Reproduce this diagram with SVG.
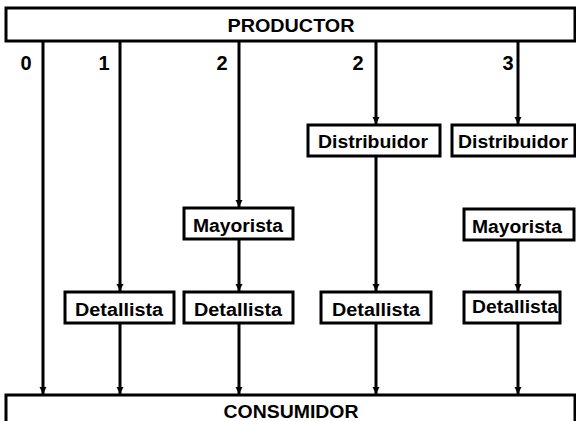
<svg xmlns="http://www.w3.org/2000/svg" width="576" height="421" viewBox="0 0 576 421">
<defs>
<marker id="ah" viewBox="0 0 10 10" refX="10" refY="5" markerWidth="2.5" markerHeight="2.5" markerUnits="strokeWidth" orient="auto">
<path d="M0,0 L10,5 L0,10 z" fill="#000"/>
</marker>
<style>
.box{fill:#fff;stroke:#000;stroke-width:3}
.t{font-family:"Liberation Sans",Arial,sans-serif;font-weight:bold;fill:#000;text-anchor:middle}
.l{font-size:18px}
.n{font-size:20px}
.e{stroke:#000;stroke-width:3;fill:none}
.a{marker-end:url(#ah)}
</style>
</defs>
<rect width="576" height="421" fill="#fff"/>
<g id="connectors">
<line class="e a" x1="43" y1="41" x2="43" y2="394"/>
<line class="e a" x1="120" y1="41" x2="120" y2="291"/>
<line class="e a" x1="120" y1="323" x2="120" y2="394"/>
<line class="e a" x1="239" y1="41" x2="239" y2="207"/>
<line class="e a" x1="239" y1="239" x2="239" y2="291"/>
<line class="e a" x1="239" y1="323" x2="239" y2="394"/>
<line class="e a" x1="376" y1="41" x2="376" y2="124"/>
<line class="e a" x1="376" y1="156" x2="376" y2="291"/>
<line class="e a" x1="376" y1="323" x2="376" y2="394"/>
<line class="e a" x1="518" y1="41" x2="518" y2="124"/>
<line class="e a" x1="518" y1="240" x2="518" y2="291"/>
<line class="e a" x1="518" y1="323" x2="518" y2="394"/>
</g>
<g id="productor">
<rect class="box" x="6" y="8" width="569" height="33"/>
<text class="t" x="291" y="32" font-size="19" textLength="127" lengthAdjust="spacingAndGlyphs">PRODUCTOR</text>
</g>
<g id="labels">
<text class="t n" x="26" y="70">0</text>
<text class="t n" x="104" y="70">1</text>
<text class="t n" x="222" y="70">2</text>
<text class="t n" x="358" y="70">2</text>
<text class="t n" x="508" y="70">3</text>
</g>
<g id="distribuidor1">
<rect class="box" x="308" y="125" width="132" height="31"/>
<text class="t l" x="373" y="148" textLength="110" lengthAdjust="spacingAndGlyphs">Distribuidor</text>
</g>
<g id="distribuidor2">
<rect class="box" x="452" y="125" width="123" height="31"/>
<text class="t l" x="513" y="148" textLength="110" lengthAdjust="spacingAndGlyphs">Distribuidor</text>
</g>
<g id="mayorista1">
<rect class="box" x="184" y="208" width="109" height="31"/>
<text class="t l" x="238" y="232" textLength="90" lengthAdjust="spacingAndGlyphs">Mayorista</text>
</g>
<g id="mayorista2">
<rect class="box" x="464" y="209" width="110" height="31"/>
<text class="t l" x="517" y="233" textLength="90" lengthAdjust="spacingAndGlyphs">Mayorista</text>
</g>
<g id="detallista1">
<rect class="box" x="65" y="292" width="109" height="31"/>
<text class="t l" x="119" y="316" textLength="88" lengthAdjust="spacingAndGlyphs">Detallista</text>
</g>
<g id="detallista2">
<rect class="box" x="184" y="292" width="109" height="31"/>
<text class="t l" x="238" y="316" textLength="88" lengthAdjust="spacingAndGlyphs">Detallista</text>
</g>
<g id="detallista3">
<rect class="box" x="321" y="292" width="110" height="31"/>
<text class="t l" x="376" y="316" textLength="88" lengthAdjust="spacingAndGlyphs">Detallista</text>
</g>
<g id="detallista4">
<rect class="box" x="464" y="292" width="96" height="31"/>
<text class="t l" x="515" y="313" textLength="86" lengthAdjust="spacingAndGlyphs">Detallista</text>
</g>
<g id="consumidor">
<rect class="box" x="6" y="395" width="569" height="40"/>
<text class="t" x="291" y="418" font-size="19" textLength="135" lengthAdjust="spacingAndGlyphs">CONSUMIDOR</text>
</g>
</svg>
